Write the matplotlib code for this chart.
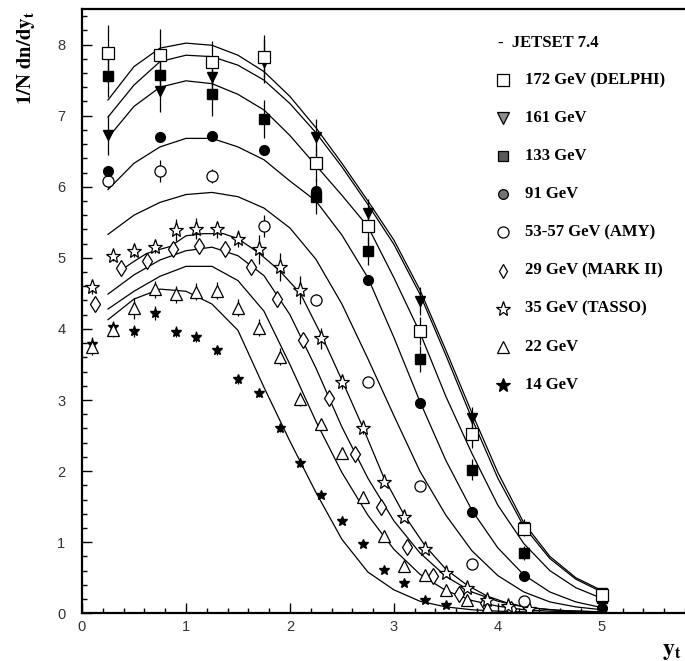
import numpy as np
import matplotlib

matplotlib.use("Agg")
import matplotlib.pyplot as plt
from matplotlib.ticker import MultipleLocator

plt.rcParams["mathtext.fontset"] = "stix"

# measured points, high energies share the same bins
x_hi = [0.25, 0.75, 1.25, 1.75, 2.25, 2.75, 3.25, 3.75, 4.25, 5.0]
y_172 = [7.88, 7.85, 7.75, 7.83, 6.33, 5.45, 3.97, 2.52, 1.19, 0.26]
e_172 = [0.40, 0.37, 0.30, 0.30, 0.25, 0.25, 0.20, 0.20, 0.10, 0.05]
y_161 = [6.73, 7.35, 7.54, 7.76, 6.70, 5.63, 4.39, 2.75, 1.22, 0.28]
e_161 = [0.28, 0.30, 0.30, 0.30, 0.25, 0.20, 0.20, 0.15, 0.10, 0.05]
y_133 = [7.56, 7.57, 7.30, 6.95, 5.86, 5.10, 3.58, 2.02, 0.85, 0.21]
e_133 = [0.30, 0.30, 0.30, 0.27, 0.25, 0.20, 0.18, 0.15, 0.10, 0.05]
y_91 = [6.22, 6.70, 6.72, 6.51, 5.94, 4.69, 2.96, 1.43, 0.52, 0.07]

x_amy = [0.25, 0.75, 1.25, 1.75, 2.25, 2.75, 3.25, 3.75, 4.25]
y_amy = [6.08, 6.22, 6.15, 5.45, 4.41, 3.26, 1.79, 0.69, 0.17]
e_amy = [0.10, 0.15, 0.10, 0.15, 0.08, 0.05, 0.05, 0.03, 0.02]

x_mark2 = [0.125, 0.375, 0.625, 0.875, 1.125, 1.375, 1.625, 1.875, 2.125,
           2.375, 2.625, 2.875, 3.125, 3.375, 3.625, 3.875, 4.125]
y_mark2 = [4.35, 4.85, 4.96, 5.13, 5.16, 5.12, 4.87, 4.42, 3.85,
           3.03, 2.24, 1.49, 0.93, 0.53, 0.27, 0.15, 0.06]

x_tasso = [0.1, 0.3, 0.5, 0.7, 0.9, 1.1, 1.3, 1.5, 1.7, 1.9, 2.1,
           2.3, 2.5, 2.7, 2.9, 3.1, 3.3, 3.5, 3.7, 3.9, 4.1, 4.3]
y_tasso = [4.59, 5.03, 5.09, 5.15, 5.39, 5.41, 5.40, 5.27, 5.12, 4.87, 4.55,
           3.87, 3.25, 2.60, 1.85, 1.36, 0.90, 0.56, 0.35, 0.19, 0.10, 0.06]
e_tasso = [0.10, 0.08, 0.08, 0.08, 0.15, 0.15, 0.12, 0.12, 0.20, 0.20, 0.20,
           0.15, 0.10, 0.08, 0.05, 0.05, 0.04, 0.04, 0.04, 0.03, 0.02, 0.02]

x_22 = [0.1, 0.3, 0.5, 0.7, 0.9, 1.1, 1.3, 1.5, 1.7, 1.9,
        2.1, 2.3, 2.5, 2.7, 2.9, 3.1, 3.3, 3.5, 3.7, 3.9]
y_22 = [3.75, 3.99, 4.29, 4.56, 4.49, 4.52, 4.54, 4.30, 4.02, 3.61,
        3.01, 2.66, 2.25, 1.64, 1.09, 0.66, 0.54, 0.33, 0.19, 0.07]
e_22 = [0.12, 0.10, 0.15, 0.12, 0.12, 0.12, 0.12, 0.12, 0.12, 0.12,
        0.10, 0.08, 0.08, 0.06, 0.05, 0.04, 0.03, 0.03, 0.02, 0.02]

x_14 = [0.1, 0.3, 0.5, 0.7, 0.9, 1.1, 1.3, 1.5, 1.7,
        1.9, 2.1, 2.3, 2.5, 2.7, 2.9, 3.1, 3.3, 3.5]
y_14 = [3.79, 4.03, 3.97, 4.22, 3.96, 3.89, 3.70, 3.29, 3.10,
        2.60, 2.11, 1.67, 1.30, 0.98, 0.61, 0.43, 0.19, 0.11]
e_14 = [0.10, 0.08, 0.08, 0.10, 0.08, 0.08, 0.06, 0.06, 0.06,
        0.05, 0.05, 0.04, 0.03, 0.03, 0.02, 0.02, 0.02, 0.02]

# JETSET 7.4 predictions
x_mc = [0.25, 0.5, 0.75, 1.0, 1.25, 1.5, 1.75, 2.0, 2.25, 2.5,
        2.75, 3.0, 3.25, 3.5, 3.75, 4.0, 4.25, 4.5, 4.75, 5.0]
mc_172 = [7.22, 7.69, 7.95, 8.02, 7.99, 7.85, 7.62, 7.27, 6.83, 6.33,
          5.80, 5.25, 4.55, 3.70, 2.82, 1.98, 1.27, 0.80, 0.50, 0.32]
mc_161 = [6.98, 7.43, 7.76, 7.85, 7.83, 7.71, 7.50, 7.17, 6.76, 6.28,
          5.75, 5.19, 4.49, 3.63, 2.74, 1.90, 1.22, 0.77, 0.48, 0.30]
mc_133 = [6.69, 7.13, 7.40, 7.49, 7.45, 7.30, 7.08, 6.72, 6.30, 5.88,
          5.44, 4.72, 3.95, 3.05, 2.25, 1.52, 0.98, 0.60, 0.36, 0.21]
mc_91 = [5.96, 6.33, 6.56, 6.68, 6.68, 6.56, 6.38, 6.08, 5.80, 5.32,
         4.72, 3.88, 2.98, 2.15, 1.45, 0.92, 0.54, 0.30, 0.16, 0.08]
mc_55 = [5.33, 5.60, 5.78, 5.89, 5.92, 5.86, 5.70, 5.42, 4.98, 4.35,
         3.58, 2.78, 2.00, 1.38, 0.88, 0.53, 0.30, 0.16, 0.09, 0.05]
mc_29 = [4.49, 4.76, 4.97, 5.10, 5.15, 5.03, 4.75, 4.20, 3.45, 2.62,
         1.90, 1.30, 0.85, 0.52, 0.30, 0.17, 0.09, 0.05, 0.03, 0.02]
mc_22 = [4.28, 4.53, 4.74, 4.88, 4.88, 4.68, 4.25, 3.50, 2.70, 1.98,
         1.38, 0.90, 0.55, 0.32, 0.18, 0.10, 0.05, 0.03, 0.02, 0.01]
mc_14 = [4.13, 4.42, 4.56, 4.53, 4.35, 3.98, 3.18, 2.42, 1.70, 1.04,
         0.58, 0.33, 0.17, 0.09, 0.05, 0.03, 0.02, 0.01, 0.00, 0.00]

x_mc35 = [0.37, 0.5, 0.62, 0.75, 0.85, 1.0, 1.17, 1.36, 1.5, 1.7, 1.9, 2.1, 2.3,
          2.5, 2.7, 2.9, 3.1, 3.3, 3.5, 3.7, 3.9, 4.1, 4.3, 4.6, 5.0]
mc_35 = [4.82, 4.95, 5.06, 5.12, 5.16, 5.31, 5.34, 5.34, 5.27, 5.07, 4.82, 4.50, 3.92,
         3.28, 2.62, 1.92, 1.38, 0.95, 0.62, 0.40, 0.24, 0.14, 0.08, 0.04, 0.02]

fig = plt.figure(figsize=(6.85, 6.61), dpi=100)
ax = fig.add_axes([82 / 685, 47.7 / 661, 603 / 685, 604.3 / 661])

for yc in [mc_172, mc_161, mc_133, mc_91, mc_55, mc_29, mc_22, mc_14]:
    ax.plot(x_mc, yc, color="black", lw=0.9)
ax.plot(x_mc35, mc_35, color="black", lw=0.9)

eb = dict(color="black", ecolor="black", elinewidth=0.9, capsize=0, ls="none")
ax.errorbar(x_14, y_14, yerr=e_14, marker="*", ms=7, mfc="black", mec="black", **eb)
ax.errorbar(x_22, y_22, yerr=e_22, marker="^", ms=9, mfc="white", mec="black", mew=0.9, **eb)
ax.errorbar(x_tasso, y_tasso, yerr=e_tasso, marker="*", ms=11, mfc="white", mec="black", mew=0.9, **eb)
ax.plot(x_mark2, y_mark2, ls="none", marker="d", ms=8, mfc="white", mec="black", mew=0.9)
ax.errorbar(x_amy, y_amy, yerr=e_amy, marker="o", ms=8, mfc="white", mec="black", mew=0.9, **eb)
ax.errorbar(x_hi, y_91, marker="o", ms=7, mfc="black", mec="black", **eb)
ax.errorbar(x_hi, y_133, yerr=e_133, marker="s", ms=7, mfc="black", mec="black", **eb)
ax.errorbar(x_hi, y_161, yerr=e_161, marker="v", ms=7, mfc="black", mec="black", **eb)
ax.errorbar(x_hi, y_172, yerr=e_172, marker="s", ms=8, mfc="white", mec="black", mew=0.9, **eb)

ax.set_xlim(0, 5.8)
ax.set_ylim(0, 8.5)
ax.spines["right"].set_visible(False)
for s in ["left", "bottom", "top"]:
    ax.spines[s].set_linewidth(1.6)
ax.xaxis.set_major_locator(MultipleLocator(1))
ax.xaxis.set_minor_locator(MultipleLocator(0.2))
ax.yaxis.set_major_locator(MultipleLocator(1))
ax.yaxis.set_minor_locator(MultipleLocator(0.2))
ax.tick_params(which="both", direction="in", top=False, right=False, labelsize=10.5,
               labelcolor="#333333")
ax.tick_params(which="major", length=7.5, width=1.0)
ax.tick_params(which="minor", length=3.6, width=1.0)
ax.tick_params(axis="y", pad=12)
ax.tick_params(axis="x", pad=5)
for lab in ax.get_xticklabels() + ax.get_yticklabels():
    lab.set_fontfamily("Liberation Sans")

fig.text(26 / 685, 1 - 10 / 661, r"$\mathbf{1/N\ dn/dy_t}$", rotation=90,
         ha="center", va="top", fontsize=15)
fig.text(672 / 685, 1 - 650 / 661, r"$\mathbf{y_t}$", ha="center", va="center", fontsize=17)

# legend drawn as a column of marker + label rows
rows = [
    ("s", "white", "172 GeV (DELPHI)", 8),
    ("v", "0.55", "161 GeV", 8),
    ("s", "0.35", "133 GeV", 7),
    ("o", "0.45", "91 GeV", 7),
    ("o", "white", "53-57 GeV (AMY)", 8),
    ("d", "white", "29 GeV (MARK II)", 7),
    ("*", "white", "35 GeV (TASSO)", 11),
    ("^", "white", "22 GeV", 9),
    ("*", "black", "14 GeV", 10),
]
lf = dict(family="Liberation Serif", weight="bold", size=12)
fig.text(498 / 685, 1 - 43 / 661, "-  JETSET 7.4", ha="left", va="center", **lf)
for i, (mk, fc, label, ms) in enumerate(rows):
    yy = 1 - (80 + 38.1 * i) / 661
    fig.add_artist(plt.Line2D([503 / 685], [yy], marker=mk, ms=ms, mfc=fc,
                              mec="black", mew=0.9, ls="none"))
    fig.text(525 / 685, yy, label, ha="left", va="center", **lf)

fig.savefig("out.png", dpi=100)
plt.close(fig)
